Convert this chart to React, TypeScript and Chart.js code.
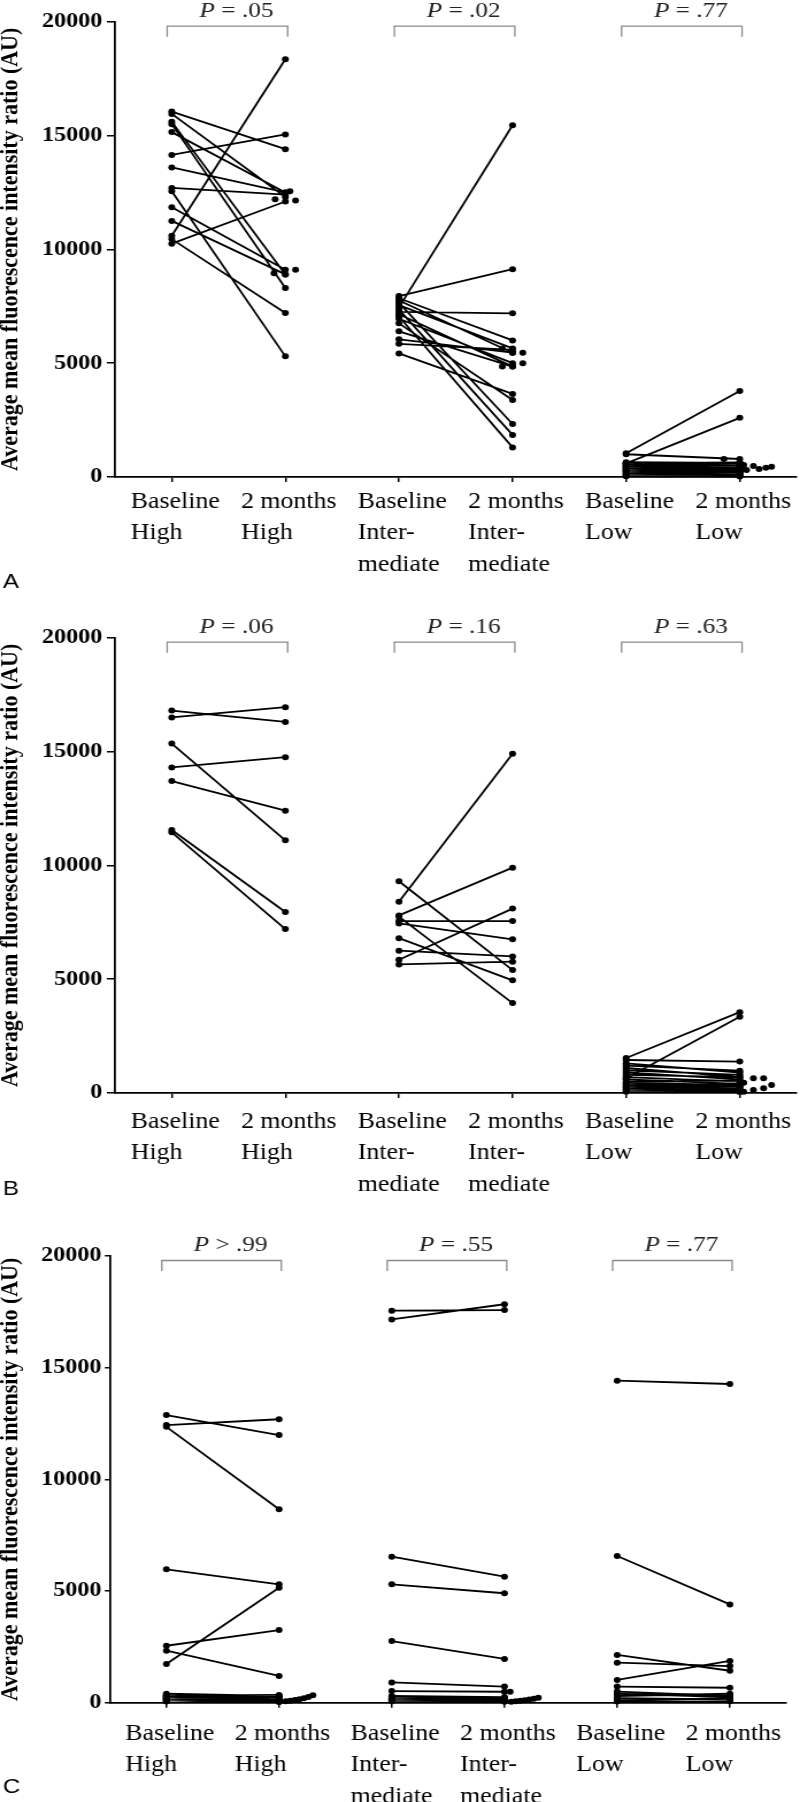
import React, { useEffect, useRef } from "react";
import { Chart, registerables } from "chart.js";

Chart.register(...registerables);

// ---------- data ----------
const categoryLines: string[][] = [
  ["Baseline", "High"],
  ["2 months", "High"],
  ["Baseline", "Inter-", "mediate"],
  ["2 months", "Inter-", "mediate"],
  ["Baseline", "Low"],
  ["2 months", "Low"],
];
const yTickValues = [0, 5000, 10000, 15000, 20000];
const yTitle = "Average mean fluorescence intensity ratio (AU)";

// Panel A
const aHighBase = [16050, 15950, 15600, 15500, 15150, 14150, 13600, 12700, 12550, 11850, 11250, 10600, 10450, 10250];
const aHighAfter = [14400, 12300, 8900, 8300, 12500, 15050, 12500, 12400, 5300, 9100, 8900, 18350, 7200, 12100];
const aInterBase = [7950, 7850, 7750, 7650, 7550, 7450, 7350, 7250, 7150, 7050, 6950, 6750, 6400, 6050, 5850, 5430];
const aInterAfter = [9130, 6000, 5460, 2330, 5650, 15450, 1850, 7190, 4850, 1300, 5000, 3380, 4850, 5460, 5580, 3650];
const aLowBase = [1040, 1000, 600, 650, 630, 610, 580, 560, 540, 510, 490, 470, 440, 420, 400, 380, 350, 330, 300, 280, 250, 230, 200, 170, 140, 110, 80, 50, 30];
const aLowAfter = [3780, 790, 2600, 620, 500, 640, 560, 430, 600, 480, 520, 400, 450, 350, 380, 300, 420, 250, 330, 200, 280, 150, 220, 120, 180, 90, 60, 100, 20];
const aExtra = [[0.91, 12200], [1.04, 12550], [1.09, 12150], [0.9, 8950], [1.09, 9100], [3.09, 5460], [3.09, 5000], [2.91, 5650], [2.91, 4850], [4.86, 790], [5.035, 527], [5.12, 483], [5.06, 307], [5.17, 351], [5.23, 409], [5.28, 453]];
const aP = ["= .05", "= .02", "= .77"];

// Panel B
const bHighBase = [16800, 16500, 15350, 14300, 13700, 11550, 11450];
const bHighAfter = [16300, 16950, 11100, 14750, 12400, 7950, 7200];
const bInterBase = [9300, 8400, 7800, 7750, 7550, 7450, 6800, 6250, 5850, 5650];
const bInterAfter = [5400, 14900, 9900, 3950, 7550, 6750, 4950, 6000, 8100, 5770];
const bLowBase = [1540, 1450, 1300, 1200, 1100, 1000, 900, 800, 700, 650, 600, 500, 450, 400, 350, 300, 250, 200, 150, 100, 60];
const bLowAfter = [3550, 1380, 900, 980, 700, 800, 600, 700, 500, 3350, 400, 550, 350, 300, 250, 200, 300, 150, 100, 80, 40];
const bExtra = [[5.035, 453], [5.12, 646], [5.21, 646], [5.035, 57], [5.12, 132], [5.21, 206], [5.28, 352]];
const bP = ["= .06", "= .16", "= .63"];

// Panel C
const cHighBase = [12880, 12430, 12350, 5970, 2550, 2330, 1730, 400, 350, 320, 300, 280, 250, 220, 200, 180, 150, 120, 100, 80, 50];
const cHighAfter = [11985, 12690, 8660, 5300, 3250, 1200, 5150, 300, 250, 350, 200, 280, 150, 200, 250, 100, 120, 80, 60, 40, 30];
const cInterBase = [17550, 17160, 6540, 5300, 2760, 910, 520, 300, 250, 200, 150, 100, 60];
const cInterAfter = [17580, 17840, 5640, 4900, 1960, 720, 490, 250, 200, 150, 120, 80, 40];
const cLowBase = [14420, 6570, 2140, 1790, 1020, 720, 500, 400, 300, 200, 100, 50];
const cLowAfter = [14270, 4400, 1430, 1640, 1870, 670, 300, 250, 400, 150, 200, 60];
const cExtra = [[0.88, 150], [1.06, 60], [1.1, 90], [1.14, 120], [1.18, 160], [1.22, 200], [1.26, 250], [1.3, 330], [3.05, 493], [3.06, 40], [3.1, 60], [3.14, 90], [3.18, 110], [3.22, 140], [3.26, 180], [3.3, 220]];
const cP = ["> .99", "= .55", "= .77"];

// ---------- layout specs ----------
const SERIF = '"Liberation Serif", "Times New Roman", serif';
const SANS = '"Liberation Sans", Arial, sans-serif';
const INTERNAL_W = 696;

type Spec = {
  letter: string;
  height: number;
  top: number;
  xHeight: number;
  leftW: number;
  rightPad: number;
  labelOffset: number;
  letterY: number;
  yTickLen: number;
  yTickPad: number;
  groups: [number[], number[]][];
  extra: number[][];
  pvals: string[];
};

const specs: Spec[] = [
  { letter: "A", height: 598, top: 21.7, xHeight: 121, leftW: 100, rightPad: 1.5, labelOffset: 24.7, letterY: 582, yTickLen: 7, yTickPad: 4,
    groups: [[aHighBase, aHighAfter], [aInterBase, aInterAfter], [aLowBase, aLowAfter]], extra: aExtra, pvals: aP },
  { letter: "B", height: 602, top: 39.7, xHeight: 107, leftW: 100, rightPad: 1.5, labelOffset: 28.7, letterY: 591, yTickLen: 7, yTickPad: 4,
    groups: [[bHighBase, bHighAfter], [bInterBase, bInterAfter], [bLowBase, bLowAfter]], extra: bExtra, pvals: bP },
  { letter: "C", height: 602, top: 56, xHeight: 99.3, leftW: 95.7, rightPad: 12, labelOffset: 31, letterY: 587, yTickLen: 4.5, yTickPad: 3,
    groups: [[cHighBase, cHighAfter], [cInterBase, cInterAfter], [cLowBase, cLowAfter]], extra: cExtra, pvals: cP },
];

function makeConfig(spec: Spec): any {
  const datasets: any[] = spec.groups.map(([base, after], g) => {
    const data: any[] = [];
    base.forEach((b, k) => {
      data.push({ x: g * 2, y: b }, { x: g * 2 + 1, y: after[k] }, { x: g * 2 + 0.5, y: null });
    });
    return {
      data,
      borderColor: "#000",
      borderWidth: 1.8,
      pointRadius: 3,
      pointHoverRadius: 3,
      pointBackgroundColor: "#000",
      pointBorderColor: "#000",
      pointBorderWidth: 0,
      spanGaps: false,
      tension: 0,
      clip: false,
    };
  });
  datasets.push({
    data: spec.extra.map(([x, y]) => ({ x, y })),
    showLine: false,
    pointRadius: 3,
    pointHoverRadius: 3,
    pointBackgroundColor: "#000",
    pointBorderColor: "#000",
    pointBorderWidth: 0,
    clip: false,
  });

  const annot = {
    id: "annot" + spec.letter,
    afterDraw(chart: any) {
      const ctx = chart.ctx;
      const xs = chart.scales.x;
      const area = chart.chartArea;
      ctx.save();
      // brackets and P values
      const by = area.top + 4.5;
      for (let g = 0; g < 3; g++) {
        const x1 = xs.getPixelForValue(g * 2 - 0.04);
        const x2 = xs.getPixelForValue(g * 2 + 1.02);
        ctx.strokeStyle = "#8a8a8a";
        ctx.lineWidth = 1.3;
        ctx.beginPath();
        ctx.moveTo(x1, by + 10.5);
        ctx.lineTo(x1, by);
        ctx.lineTo(x2, by);
        ctx.lineTo(x2, by + 10.5);
        ctx.stroke();
        const italic = "italic 22px " + SERIF;
        const reg = "22px " + SERIF;
        ctx.font = italic;
        const wP = ctx.measureText("P").width;
        ctx.font = reg;
        const rest = " " + spec.pvals[g];
        const wR = ctx.measureText(rest).width;
        const cx = xs.getPixelForValue(g * 2 + 0.57);
        const sx = cx - (wP + wR) / 2;
        ctx.fillStyle = "#222";
        ctx.textBaseline = "middle";
        ctx.textAlign = "left";
        ctx.font = italic;
        ctx.fillText("P", sx, by - 15);
        ctx.font = reg;
        ctx.fillText(rest, sx + wP, by - 15);
      }
      // category labels (left-aligned block centred on tick)
      ctx.font = "22.5px " + SERIF;
      ctx.fillStyle = "#000";
      ctx.textBaseline = "middle";
      ctx.textAlign = "left";
      categoryLines.forEach((lines, i) => {
        const maxW = Math.max(...lines.map((l) => ctx.measureText(l).width));
        const x0 = xs.getPixelForValue(i) - maxW / 2 + 3;
        lines.forEach((l, j) => {
          ctx.fillText(l, x0, area.bottom + spec.labelOffset + j * 31.6);
        });
      });
      // panel letter
      ctx.font = "21px " + SANS;
      ctx.fillStyle = "#000";
      ctx.fillText(spec.letter, 2.6, spec.letterY);
      ctx.restore();
    },
  };

  return {
    type: "line",
    data: { datasets },
    options: {
      responsive: false,
      animation: false,
      devicePixelRatio: 1,
      events: [],
      layout: { padding: { top: spec.top, right: spec.rightPad, left: 0, bottom: 0 } },
      plugins: { legend: { display: false }, tooltip: { enabled: false } },
      scales: {
        x: {
          type: "linear",
          min: -0.5,
          max: 5.5,
          afterBuildTicks: (s: any) => {
            s.ticks = categoryLines.map((_, i) => ({ value: i }));
          },
          afterFit: (s: any) => {
            s.height = spec.xHeight;
          },
          ticks: { display: true, callback: () => "", autoSkip: false },
          grid: { drawOnChartArea: false, drawTicks: true, tickLength: 5, color: "#000", lineWidth: 1.5 },
          border: { display: true, color: "#000", width: 1.8 },
        },
        y: {
          type: "linear",
          min: 0,
          max: 20000,
          afterBuildTicks: (s: any) => {
            s.ticks = yTickValues.map((v) => ({ value: v }));
          },
          afterFit: (s: any) => {
            s.width = spec.leftW;
          },
          ticks: {
            callback: (v: any) => String(v),
            font: { family: SERIF, size: 21, weight: "bold" },
            color: "#000",
            padding: spec.yTickPad,
          },
          grid: { drawOnChartArea: false, drawTicks: true, tickLength: spec.yTickLen, color: "#000", lineWidth: 1.5 },
          border: { display: true, color: "#000", width: 1.8 },
          title: {
            display: true,
            text: yTitle,
            color: "#000",
            font: { family: SERIF, size: 22, weight: "bold", lineHeight: 1 },
            padding: { top: -2, bottom: 0 },
          },
        },
      },
    },
    plugins: [annot],
  };
}

function Panel({ spec }: { spec: Spec }) {
  const ref = useRef<HTMLCanvasElement | null>(null);
  useEffect(() => {
    if (!ref.current) return;
    const chart = new Chart(ref.current, makeConfig(spec));
    return () => chart.destroy();
  }, [spec]);
  return (
    <canvas
      ref={ref}
      width={INTERNAL_W}
      height={spec.height}
      style={{ width: "800px", height: spec.height + "px", display: "block" }}
    />
  );
}

export default function App() {
  return (
    <div style={{ position: "absolute", left: 0, top: 0, width: 800, height: 1802, background: "#fff", overflow: "hidden" }}>
      {specs.map((s) => (
        <Panel key={s.letter} spec={s} />
      ))}
    </div>
  );
}
